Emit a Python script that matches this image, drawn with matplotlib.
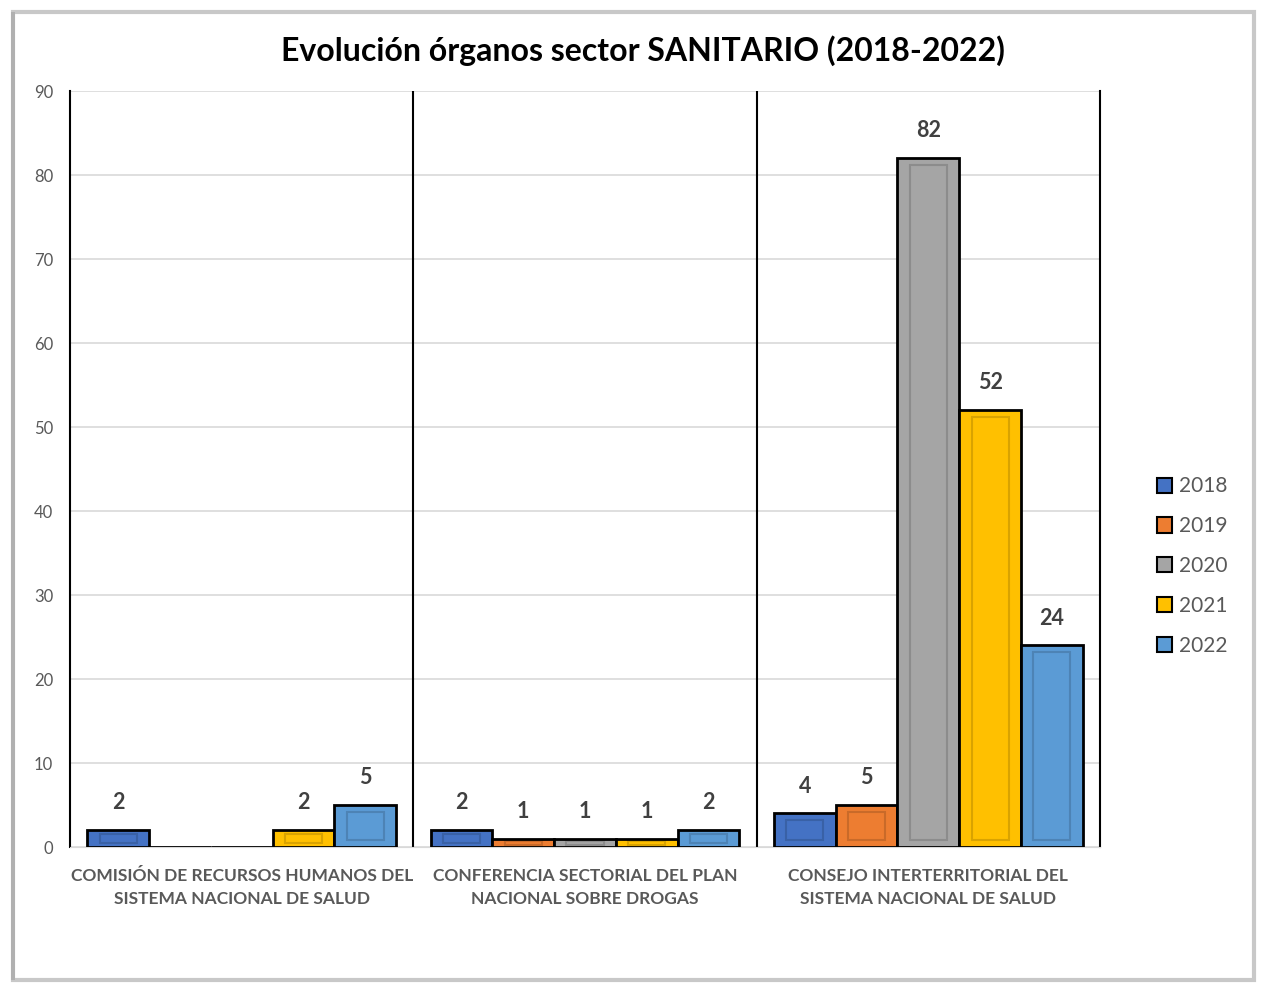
import numpy as np
import matplotlib
matplotlib.use("Agg")
import matplotlib.pyplot as plt
from matplotlib.patches import Rectangle

categories = ["COMISIÓN DE RECURSOS HUMANOS DEL\nSISTEMA NACIONAL DE SALUD",
              "CONFERENCIA SECTORIAL DEL PLAN\nNACIONAL SOBRE DROGAS",
              "CONSEJO INTERTERRITORIAL DEL\nSISTEMA NACIONAL DE SALUD"]
years = ["2018", "2019", "2020", "2021", "2022"]
v2018 = [2, 2, 4]
v2019 = [0, 1, 5]
v2020 = [0, 1, 82]
v2021 = [2, 1, 52]
v2022 = [5, 2, 24]
colors = ["#4472C4", "#ED7D31", "#A5A5A5", "#FFC000", "#5B9BD5"]

plt.rcParams['font.family'] = ['Lato', 'DejaVu Sans']

fig = plt.figure(figsize=(12.63, 9.83), dpi=100)
# chart frame with a soft shadow on the left
fig.patches.append(Rectangle((0.010, 0.003), 0.983, 0.985, transform=fig.transFigure,
                             fill=False, edgecolor="#c8c8c8", linewidth=3))
fig.patches.append(Rectangle((0.0085, 0.003), 0.003, 0.985, transform=fig.transFigure,
                             facecolor="#b0b0b0", edgecolor="none"))
ax = fig.add_axes([70 / 1263, 1 - 847 / 983, 1030 / 1263, 756 / 983])

series = [v2018, v2019, v2020, v2021, v2022]
x = np.arange(len(categories))
w = 0.18
for i, (vals, c, yr) in enumerate(zip(series, colors, years)):
    pos = x + (i - 2) * w
    ax.bar(pos, vals, width=w, color=c, edgecolor="black", linewidth=2, label=yr, zorder=3)
    for p, v in zip(pos, vals):
        if v > 0:
            # inner bevel
            inset = min(0.8, v * 0.25)
            ax.add_patch(Rectangle((p - w * 0.3, inset), w * 0.6, max(v - 2 * inset, 0.01),
                                   fill=False, edgecolor="black", alpha=0.15, linewidth=1.5, zorder=4))
            ax.text(p, v + 2, str(v), ha="center", va="bottom", fontsize=15.5,
                    fontweight="bold", color="#404040")

ax.set_xlim(-0.5, 2.5)
ax.set_ylim(0, 90)
ax.set_yticks(range(0, 91, 10))
ax.yaxis.grid(True, color="#d9d9d9", linewidth=1.2, zorder=0)
ax.set_axisbelow(True)
for sep in [0.5, 1.5]:
    ax.axvline(sep, color="black", linewidth=1.5, zorder=2)
ax.spines["top"].set_visible(False)
ax.spines["left"].set_linewidth(1.5)
ax.spines["right"].set_linewidth(1.5)
ax.spines["bottom"].set_color("#d9d9d9")
ax.tick_params(axis="both", length=0, colors="#595959")
ax.tick_params(axis="y", labelsize=12, pad=12)
ax.set_xticks(x)
ax.set_xticklabels(categories, fontsize=12.5, fontweight="bold", color="#595959", linespacing=1.55)
ax.tick_params(axis="x", pad=15)

fig.text(643 / 1263, 1 - 51 / 983, "Evolución órganos sector SANITARIO (2018-2022)",
         ha="center", va="center", fontsize=23, fontweight="bold", color="black")

handles = [Rectangle((0, 0), 1, 1, facecolor=c, edgecolor="black", linewidth=1.5) for c in colors]
fig.legend(handles, years, loc="center left", bbox_to_anchor=(1138 / 1263, 1 - 566 / 983),
           frameon=False, fontsize=15, labelcolor="#595959", handlelength=0.75, handleheight=0.75,
           handletextpad=0.3, labelspacing=0.95)

fig.savefig("out.png", dpi=100)
